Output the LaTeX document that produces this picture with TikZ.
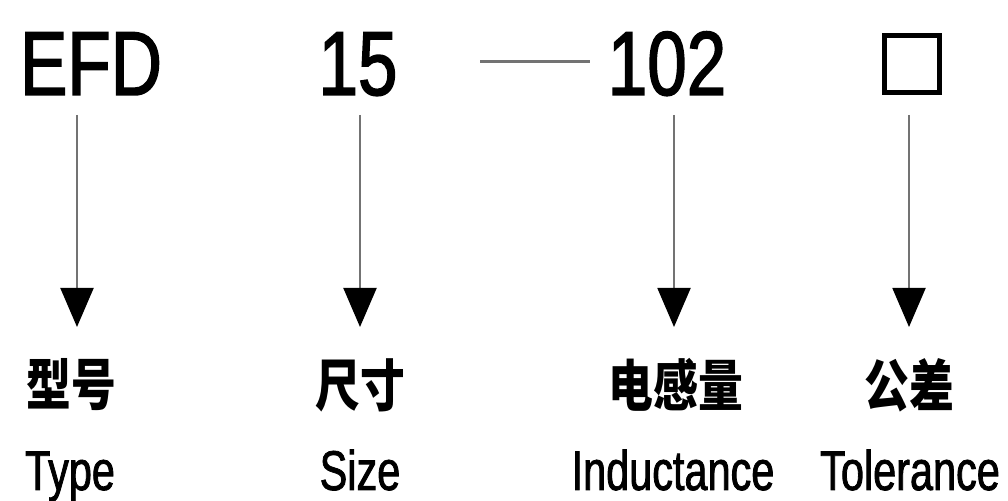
\documentclass[tikz,border=0pt]{standalone}
\usepackage{fontspec}
\setmainfont{Liberation Sans}
\newfontfamily\codefont[FakeStretch=0.78,FakeBold=1.6]{Liberation Sans}
\newfontfamily\labelfont[FakeStretch=0.74,FakeBold=1.4]{Liberation Sans}
\newfontfamily\cjk[FakeStretch=0.8]{Noto Sans CJK SC}
\usetikzlibrary{arrows.meta,positioning}
\tikzset{
  code/.style={inner sep=0pt, anchor=base, font=\codefont\fontsize{91}{91}\selectfont},
  zh/.style={inner sep=0pt, font=\cjk\bfseries\fontsize{56}{56}\selectfont},
  en/.style={inner sep=0pt, anchor=base, font=\labelfont\fontsize{56}{56}\selectfont},
  arr/.style={draw=black!55, line width=2pt, -{Triangle[width=33pt,length=39pt,black]}},
}
\begin{document}
\begin{tikzpicture}[x=1pt,y=1pt]
  \useasboundingbox (0,0) rectangle (1008,500);
  % code line
  \node[code] (efd)  at (91,405)  {EFD};
  \node[code] (size) at (358,405) {15};
  \node[code] (ind)  at (667,405) {102};
  \node[draw, line width=5pt, minimum width=55pt, minimum height=57pt, inner sep=0pt] (tol) at (912,436) {};
  \coordinate (dash1) at (480,438);
  \coordinate (dash2) at (590,438);
  \draw[black!55, line width=3pt] (dash1) -- (dash2);
  % labels
  \node[zh] (zhtype) at (71,115)  {型号};
  \node[zh] (zhsize) at (360,115) {尺寸};
  \node[zh] (zhind)  at (676,115) {电感量};
  \node[zh] (zhtol)  at (909,115) {公差};
  \node[en] (entype) at (70,10)  {Type};
  \node[en] (ensize) at (360,10) {Size};
  \node[en] (enind)  at (673,10) {Inductance};
  \node[en] (entol)  at (910,10) {Tolerance};
  % arrows
  \foreach \x/\n in {77/1,360/2,674/3,909/4} {
    \coordinate (top\n) at (\x,385);
    \coordinate (tip\n) at (\x,173);
    \draw[arr] (top\n) -- (tip\n);
  }
\end{tikzpicture}
\end{document}
